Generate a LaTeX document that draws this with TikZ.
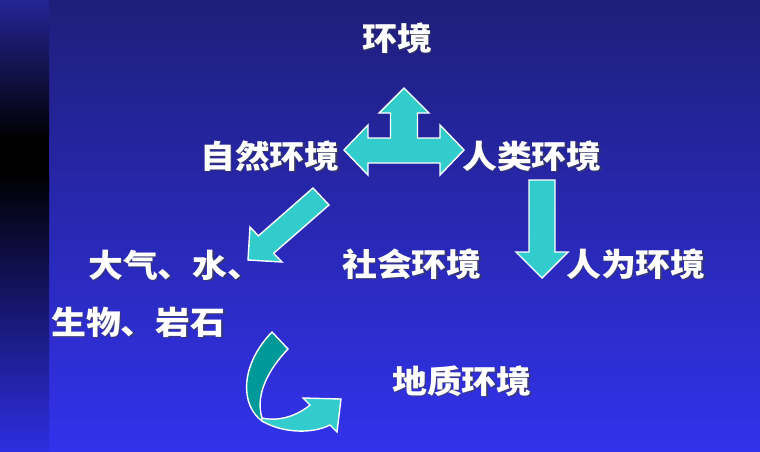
\documentclass[tikz,border=0pt]{standalone}
\usepackage{fontspec}
\usepackage{graphicx}
\newfontfamily\cjk{Noto Sans CJK SC}
\definecolor{bgtop}{RGB}{30,30,122}
\definecolor{bgbot}{RGB}{50,50,236}
\definecolor{striptop}{RGB}{36,36,150}
\definecolor{stripbot}{RGB}{46,46,225}
\definecolor{arrowlight}{RGB}{51,204,204}
\definecolor{arrowdark}{RGB}{0,153,153}
\tikzset{
  lbl/.style={font=\cjk\bfseries\fontsize{32}{32}\selectfont, text=white, inner sep=0pt, anchor=west},
  lblshadow/.style={lbl, text=black!75, opacity=0.65},
  blockarrow/.style={fill=arrowlight, draw=white, line width=1.4pt, line join=miter},
  darkarrow/.style={blockarrow, fill=arrowdark},
}
\newcommand\mylabel[3]{%
  \node[lblshadow, xshift=1.6pt, yshift=-1.6pt] (#1-s) at (#2) {\scalebox{1.09}[1]{#3}};
  \node[lbl] (#1) at (#2) {\scalebox{1.09}[1]{#3}};
}
\begin{document}
\begin{tikzpicture}[x=1pt,y=-1pt]
\useasboundingbox (0,0) rectangle (760,451);
% background
\shade[top color=bgtop, bottom color=bgbot] (49,0) rectangle (760,451);
\shade[top color=striptop, bottom color=black] (0,0) rectangle (49,140);
\fill[black] (0,140) rectangle (49,172);
\shade[top color=black, bottom color=stripbot] (0,172) rectangle (49,451);

% labels
\mylabel{env}{362,38}{环境}
\mylabel{nat}{200,156}{自然环境}
\mylabel{hum}{462,156}{人类环境}
\mylabel{air}{88,265}{大气、水、}
\mylabel{soc}{342,264}{社会环境}
\mylabel{art}{566,264}{人为环境}
\mylabel{bio}{51,322}{生物、岩石}
\mylabel{geo}{392,381}{地质环境}

% three-way arrow
\draw[blockarrow] (404,88) -- (429,113) -- (417.5,113) -- (417.5,138) -- (440,138) -- (440,125)
  -- (464,150) -- (440,175) -- (440,163) -- (368,163) -- (368,175) -- (344,150) -- (368,125)
  -- (368,138) -- (390.5,138) -- (390.5,113) -- (379,113) -- cycle;

% diagonal arrow
\draw[blockarrow] (313,188) -- (329,205) -- (273.6,253.3) -- (282,262) -- (248,260)
  -- (250,227) -- (258.4,235.8) -- cycle;

% down arrow
\draw[blockarrow] (529,180) -- (555,180) -- (555,252) -- (568,252) -- (542,278)
  -- (516,252) -- (529,252) -- cycle;

% curved arrow
\draw[darkarrow] (272,332) -- (288,349) .. controls (268,370) and (255,395) .. (262,418)
  -- (262,421) .. controls (240,405) and (240,365) .. (272,332) -- cycle;
\draw[blockarrow] (262,418) .. controls (280,422) and (298,415) .. (310,405)
  -- (303,398) -- (341,399) -- (337,432) -- (330,425)
  .. controls (310,435) and (280,432) .. (262,421) -- cycle;
\end{tikzpicture}
\end{document}
